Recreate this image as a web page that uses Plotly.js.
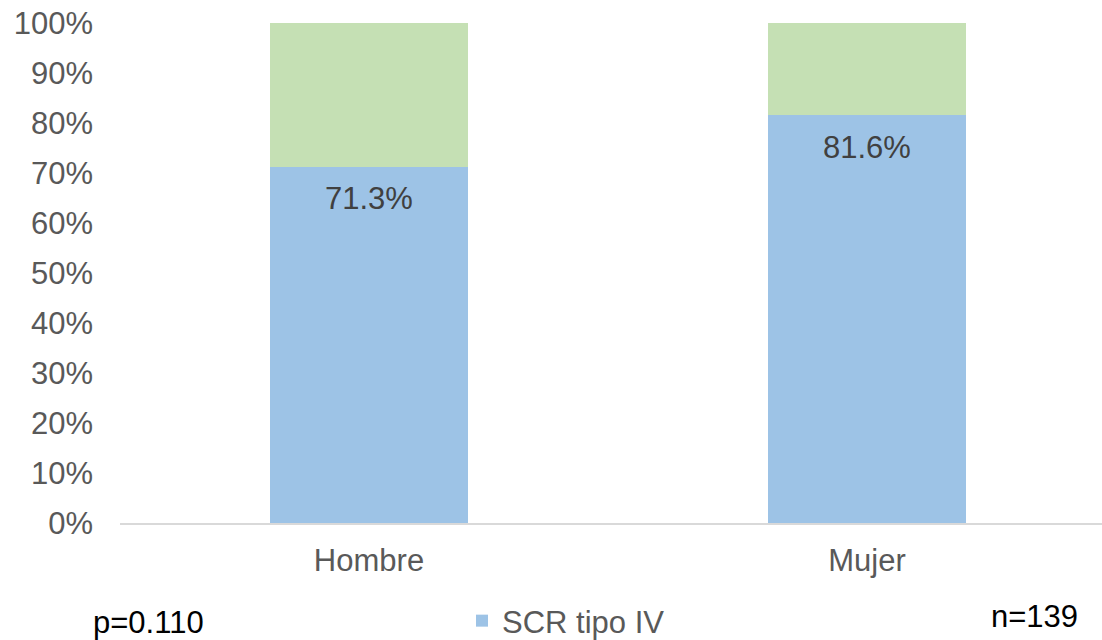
<!DOCTYPE html>
<html>
<head>
<meta charset="utf-8">
<script src="https://cdn.plot.ly/plotly-3.0.1.min.js"></script>
<style>html,body{margin:0;padding:0;background:#fff;}#chart{width:1102px;height:640px;}</style>
</head>
<body>
<div id="chart"></div>
<script>
const categories = ["Hombre", "Mujer"];
const scrTipoIV = [71.3, 81.6];
const otros = [28.7, 18.4];
const seriesName = "SCR tipo IV";
const yTickVals = [0,10,20,30,40,50,60,70,80,90,100];
const yTickText = yTickVals.map(v => v + "%");
const pText = "p=0.110";
const nText = "n=139";

const FONT = "Liberation Sans, Arial, sans-serif";
const FS = 31;
// plot area in pixels: x 120..1102, y 23..523
const px = v => (v - 120) / 982;
const py = v => (523 - v) / 500;

const traces = [
  {
    type: "bar", x: categories, y: scrTipoIV, name: seriesName,
    marker: {color: "#9DC3E6"}, width: 0.398, hoverinfo: "none"
  },
  {
    type: "bar", x: categories, y: otros, name: "Otro",
    marker: {color: "#C5E0B4"}, width: 0.398, showlegend: false, hoverinfo: "none"
  }
];

const annotations = categories.map((c, i) => ({
  x: c, y: scrTipoIV[i], xref: "x", yref: "y",
  text: scrTipoIV[i].toFixed(1) + "%", showarrow: false,
  yanchor: "middle", yshift: -32,
  font: {family: FONT, size: FS, color: "#404040"}
}));
annotations.push({
  xref: "paper", yref: "paper", x: px(91), y: py(622),
  xanchor: "left", yanchor: "middle", text: pText, showarrow: false,
  font: {family: FONT, size: FS, color: "#000000"}
});
annotations.push({
  xref: "paper", yref: "paper", x: px(1080), y: py(616),
  xanchor: "right", yanchor: "middle", text: nText, showarrow: false,
  font: {family: FONT, size: FS, color: "#000000"}
});

const layout = {
  width: 1102, height: 640,
  margin: {l: 120, r: 0, t: 23, b: 117, pad: 0},
  paper_bgcolor: "#fff", plot_bgcolor: "#fff",
  barmode: "stack",
  font: {family: FONT, size: FS, color: "#595959"},
  showlegend: true,
  legend: {
    orientation: "h", xref: "container", yref: "container",
    x: 462/1102, y: 1 - 621/640, xanchor: "left", yanchor: "middle",
    font: {family: FONT, size: FS, color: "#595959"},
    itemwidth: 30, tracegroupgap: 0, bgcolor: "rgba(0,0,0,0)"
  },
  xaxis: {
    type: "category", range: [-0.5, 1.472],
    showgrid: false, zeroline: false, showline: true,
    linecolor: "#D9D9D9", linewidth: 2, ticks: "",
    ticklabelstandoff: 9,
    tickfont: {family: FONT, size: FS, color: "#595959"}
  },
  yaxis: {
    range: [0, 100], tickvals: yTickVals, ticktext: yTickText,
    showgrid: false, zeroline: false, showline: false, ticks: "",
    ticklabelstandoff: 26,
    tickfont: {family: FONT, size: FS, color: "#595959"}
  },
  annotations: annotations
};

Plotly.newPlot("chart", traces, layout, {displayModeBar: false, staticPlot: true});
</script>
</body>
</html>
